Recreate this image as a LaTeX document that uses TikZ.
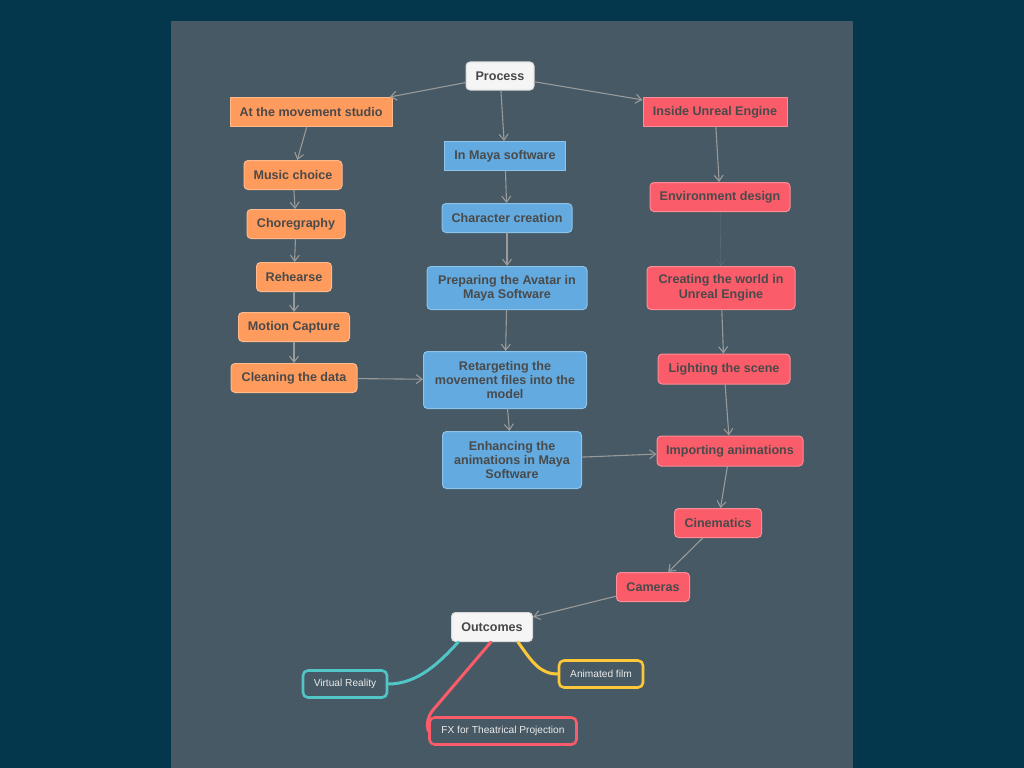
\documentclass[tikz,border=0pt]{standalone}
\usepackage{fontspec}
\setmainfont{Liberation Sans}
\usepackage{tikz}
\usetikzlibrary{arrows.meta}
\usetikzlibrary{calc}
\definecolor{pagebg}{HTML}{05374C}
\definecolor{panelbg}{HTML}{465964}
\definecolor{mvorange}{HTML}{FF9B5C}
\definecolor{mvorangeline}{HTML}{FFB98A}
\definecolor{mayablue}{HTML}{62AADF}
\definecolor{mayablueline}{HTML}{8CC4EC}
\definecolor{unrealred}{HTML}{FA5C6A}
\definecolor{unrealredline}{HTML}{FC8C96}
\definecolor{txtgrey}{HTML}{4A4A4A}
\definecolor{linkgrey}{HTML}{9A9A9A}
\definecolor{vrteal}{HTML}{52C6C6}
\definecolor{filmyellow}{HTML}{FCC83A}
\definecolor{fxred}{HTML}{FA5C6A}

\begin{document}
\begin{tikzpicture}[x=1bp,y=-1bp,line cap=round,line join=round,>={Straight Barb[length=6bp,width=9bp]},
  stepbox/.style={draw,line width=1bp,text=txtgrey,font=\bfseries\fontsize{12.6}{14.5}\selectfont,align=center,inner sep=0pt,minimum height=29bp},
  headbox/.style={stepbox},
  roundbox/.style={stepbox,rounded corners=4bp},
  studiobox/.style={roundbox,fill=mvorange,draw=mvorangeline},
  mayabox/.style={roundbox,fill=mayablue,draw=mayablueline},
  unrealbox/.style={roundbox,fill=unrealred,draw=unrealredline},
  rootbox/.style={roundbox,fill=white!96!black,draw=white!85!black,text=black!72},
  leafbox/.style={draw,line width=2.6bp,rounded corners=5bp,fill=panelbg,text=white!92!black,font=\fontsize{10.2}{12}\selectfont,inner sep=0pt,minimum height=27bp},
  link/.style={draw=linkgrey,line width=1.1bp,->},
  outlink/.style={line width=3bp}]
\fill[pagebg] (0,0) rectangle (1024,768);
\fill[panelbg] (171,21) rectangle (853,768);
\useasboundingbox (0,0) rectangle (1024,768);

\node[rootbox,minimum width=68bp,minimum height=28bp] (process) at (500,76) {Process};
\node[headbox,fill=mvorange,draw=mvorangeline,minimum width=162bp] (studio) at (311,112) {At the movement studio};
\node[headbox,fill=mayablue,draw=mayablueline,minimum width=121bp] (maya) at (505,156) {In Maya software};
\node[headbox,fill=unrealred,draw=unrealredline,minimum width=144bp] (unreal) at (715,112) {Inside Unreal Engine};

\node[studiobox,minimum width=98bp] (music) at (293,175) {Music choice};
\node[studiobox,minimum width=98bp] (choreo) at (296,224) {Choregraphy};
\node[studiobox,minimum width=75bp] (rehearse) at (294,277) {Rehearse};
\node[studiobox,minimum width=111bp] (mocap) at (294,327) {Motion Capture};
\node[studiobox,minimum width=126bp] (cleaning) at (294,378) {Cleaning the data};

\node[mayabox,minimum width=130bp] (character) at (507,218) {Character creation};
\node[mayabox,minimum width=160bp,minimum height=43bp] (avatar) at (507,288) {Preparing the Avatar in\\Maya Software};
\node[mayabox,minimum width=163bp,minimum height=57bp] (retarget) at (505,380) {Retargeting the\\movement files into the\\model};
\node[mayabox,minimum width=139bp,minimum height=57bp] (enhance) at (512,460) {Enhancing the\\animations in Maya\\Software};

\node[unrealbox,minimum width=140bp] (envdesign) at (720,197) {Environment design};
\node[unrealbox,minimum width=148bp,minimum height=43bp] (world) at (721,288) {Creating the world in\\Unreal Engine};
\node[unrealbox,minimum width=132bp,minimum height=30bp] (lighting) at (724,369) {Lighting the scene};
\node[unrealbox,minimum width=146bp,minimum height=30bp] (importing) at (730,451) {Importing animations};
\node[unrealbox,minimum width=87bp] (cinematics) at (718,523) {Cinematics};
\node[unrealbox,minimum width=73bp] (cameras) at (653,587) {Cameras};

\node[rootbox,minimum width=81bp] (outcomes) at (492,627) {Outcomes};
\node[leafbox,draw=vrteal,minimum width=84bp] (vr) at (345,684) {Virtual Reality};
\node[leafbox,draw=filmyellow,minimum width=84bp] (film) at (601,674) {Animated film};
\node[leafbox,draw=fxred,minimum width=147bp] (fx) at (503,731) {FX for Theatrical Projection};

\draw[link] (process) -- (studio);
\draw[link] (process) -- (maya);
\draw[link] (process) -- (unreal);
\draw[link] (studio) -- (music);
\draw[link] (music) -- (choreo);
\draw[link] (choreo) -- (rehearse);
\draw[link] (rehearse) -- (mocap);
\draw[link] (mocap) -- (cleaning);
\draw[link] (cleaning) -- (retarget);
\draw[link] (maya) -- (character);
\draw[link] (character) -- (avatar);
\draw[link] (avatar) -- (retarget);
\draw[link] (retarget) -- (enhance);
\draw[link] (enhance) -- (importing);
\draw[link] (unreal) -- (envdesign);
\draw[link,draw opacity=0.25,line width=0.6bp] (envdesign) -- (world);
\draw[link] (world) -- (lighting);
\draw[link] (lighting) -- (importing);
\draw[link] (importing) -- (cinematics);
\draw[link] (cinematics) -- (cameras);
\draw[link] (cameras) -- (outcomes);

\coordinate (fxbend) at (433,710);
\draw[outlink,draw=vrteal] (outcomes.204) .. controls (440,662) and (418,684) .. (vr.east);
\draw[outlink,draw=filmyellow] (outcomes.-30) .. controls (532,662) and (540,674) .. (film.west);
\draw[outlink,draw=fxred] (outcomes.266) -- (fxbend) .. controls (428,716) and (426,724) .. (fx.west);
\end{tikzpicture}
\end{document}
